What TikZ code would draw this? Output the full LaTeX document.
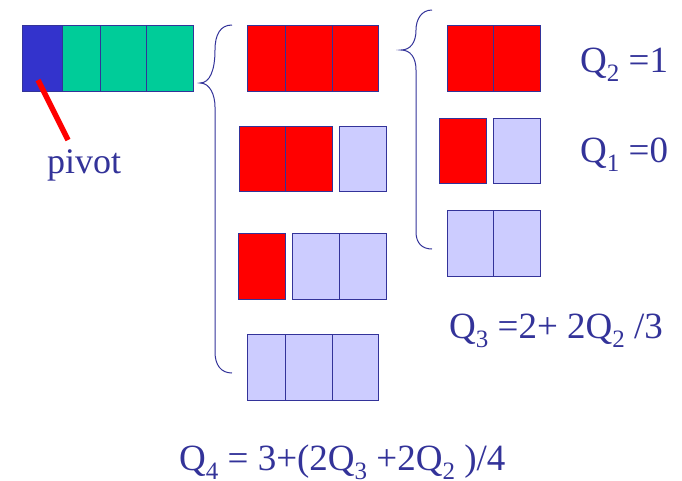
\documentclass[tikz,border=0pt]{standalone}
\usepackage{fontspec}
\setmainfont{Liberation Serif}
\newfontfamily\qfont{Liberation Serif}

\definecolor{qblue}{HTML}{3333CC}
\definecolor{qgreen}{HTML}{00CC99}
\definecolor{qred}{HTML}{FF0000}
\definecolor{qlav}{HTML}{CCCCFF}
\definecolor{qink}{HTML}{333399}

\newcommand{\qsub}[1]{\raisebox{-9pt}{\fontsize{25}{25}\selectfont #1}}

\tikzset{
  cell/.style={draw=qink, line width=1pt},
  brace/.style={draw=qink, line width=1pt},
  eqn/.style={text=qink, anchor=base west, inner sep=0pt, font=\qfont\fontsize{37}{44}\selectfont},
}

\begin{document}
\begin{tikzpicture}[x=1pt,y=-1pt]
        \useasboundingbox (0,0) rectangle (682,480);

        % Vetor inicial
        \draw[cell, fill=qblue] (22,25) rectangle (62,91);
        \draw[cell, fill=qgreen] (62,25) rectangle (100,91);
        \draw[cell, fill=qgreen] (100,25) rectangle (146,91);
        \draw[cell, fill=qgreen] (146,25) rectangle (193,91);

        % Pivot
        \node[eqn, font=\qfont\fontsize{36}{43}\selectfont] (pivot) at (47,173) {pivot};
        \coordinate (pivfoot) at (38,80);
        \coordinate (pivhead) at (68,140);
        \draw[qred, line width=5.5pt] (pivfoot) -- (pivhead);

        % Chaves
        \draw[brace] (232,25) .. controls (220,25) and (215,35) .. (215,50)
            .. controls (215,70) and (210,83) .. (200,83)
            .. controls (210,83) and (215,95) .. (215,107)
            -- (215,352) .. controls (215,365) and (221,373) .. (232,373);
        \draw[brace] (432,10) .. controls (421,10) and (416,20) .. (416,30)
            .. controls (416,43) and (410,50) .. (401,50)
            .. controls (410,50) and (416,57) .. (416,70)
            -- (416,232) .. controls (416,243) and (422,249) .. (432,249);

        % Segunda coluna
        \draw[cell, fill=qred] (247,25) rectangle (285,91);
        \draw[cell, fill=qred] (285,25) rectangle (332,91);
        \draw[cell, fill=qred] (332,25) rectangle (378,91);

        \draw[cell, fill=qred] (239,126) rectangle (285,191);
        \draw[cell, fill=qred] (285,126) rectangle (332,191);
        \draw[cell, fill=qlav] (339,126) rectangle (386,191);

        \draw[cell, fill=qred] (238,233) rectangle (285,299);
        \draw[cell, fill=qlav] (292,233) rectangle (339,299);
        \draw[cell, fill=qlav] (339,233) rectangle (386,299);

        \draw[cell, fill=qlav] (247,334) rectangle (285,400);
        \draw[cell, fill=qlav] (285,334) rectangle (332,400);
        \draw[cell, fill=qlav] (332,334) rectangle (378,400);

        % Terceira coluna
        \draw[cell, fill=qred] (447,25) rectangle (493,91);
        \draw[cell, fill=qred] (493,25) rectangle (540,91);

        \draw[cell, fill=qred] (439,118) rectangle (486,183);
        \draw[cell, fill=qlav] (493,118) rectangle (540,183);

        \draw[cell, fill=qlav] (447,210) rectangle (493,276);
        \draw[cell, fill=qlav] (493,210) rectangle (540,276);

        % Recorrencias
        \node[eqn] (qdois) at (580,72) {Q\qsub{2} =1};
        \node[eqn] (qum) at (580,162) {Q\qsub{1} =0};
        \node[eqn] (qtres) at (449,338) {Q\qsub{3} =2+ 2Q\qsub{2} /3};
        \node[eqn] (qquatro) at (179,470) {Q\qsub{4} = 3+(2Q\qsub{3} +2Q\qsub{2} )/4};
    \end{tikzpicture}
\end{document}
